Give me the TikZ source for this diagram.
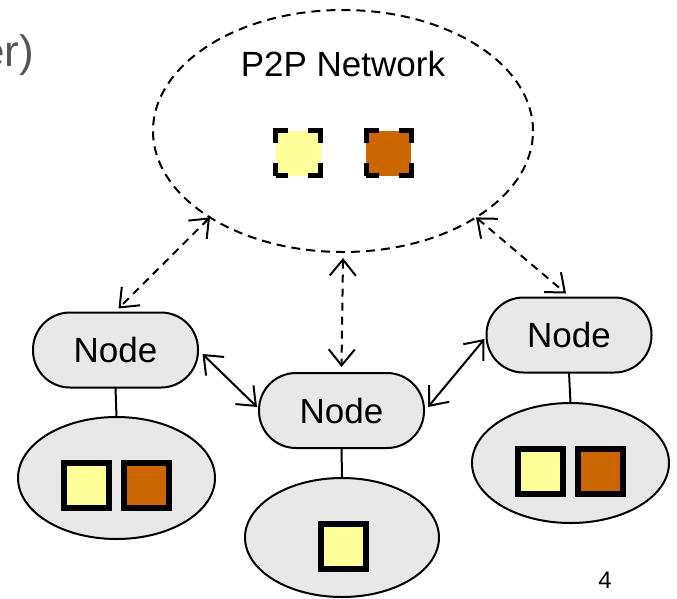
\documentclass[tikz,border=0pt]{standalone}
\usepackage{fontspec}
\setmainfont{Liberation Sans}
\usetikzlibrary{shapes.geometric,arrows.meta}
\definecolor{nodegray}{HTML}{E8E8E8}
\definecolor{yel}{HTML}{FFFF99}
\definecolor{brn}{HTML}{CC6600}
\definecolor{titlegray}{HTML}{555555}
\begin{document}
\begin{tikzpicture}[x=1pt,y=-1pt,
  peer/.style={draw=black,line width=2pt,fill=nodegray,rounded corners=37pt,
    minimum width=165pt,minimum height=75pt,inner sep=0pt,outer sep=0pt,
    font=\fontsize{35}{40}\selectfont},
  store/.style={ellipse,draw=black,line width=2pt,fill=nodegray,inner sep=0pt,outer sep=0pt},
  item/.style={draw=black,line width=6pt,minimum size=45pt,inner sep=0pt,outer sep=0pt},
  ditem/.style={draw=black,line width=5pt,minimum size=45pt,inner sep=0pt,outer sep=0pt,
    dash pattern=on 25pt off 20pt,dash phase=12.5pt},
  tip/.style={Straight Barb[length=16pt,width=26pt]},
  darrow/.style={line width=2pt,dash pattern=on 8pt off 6pt,{Straight Barb[length=16pt,width=26pt]}-{Straight Barb[length=16pt,width=26pt]}},
  sarrow/.style={line width=2pt,{Straight Barb[length=16pt,width=26pt]}-{Straight Barb[length=16pt,width=26pt]}},
  link/.style={line width=2pt}
]
\useasboundingbox (0,0) rectangle (677,598);
\clip (0,0) rectangle (677,598);

% title fragment
\node[anchor=base east,text=titlegray,font=\fontsize{44}{50}\selectfont,inner sep=0pt] (title) at (34,66) {er)};

% P2P network
\node[ellipse,draw=black,line width=2pt,dash pattern=on 9pt off 6pt,minimum width=380pt,minimum height=242pt,inner sep=0pt,outer sep=0pt] (net) at (343,131) {};
\node[font=\fontsize{35}{40}\selectfont,inner sep=0pt] (nettext) at (343,64) {P2P Network};
\node[ditem,fill=yel] (d1) at (298,153) {};
\node[ditem,fill=brn] (d2) at (388.5,153) {};

% peers
\node[peer] (L) at (115.5,350) {Node};
\node[peer] (M) at (341.5,410.5) {Node};
\node[peer] (R) at (569,335) {Node};

% stores
\node[store,minimum width=197pt,minimum height=122pt] (LS) at (116.5,478) {};
\node[store,minimum width=194pt,minimum height=119pt] (MS) at (342,537.5) {};
\node[store,minimum width=197pt,minimum height=120pt] (RS) at (570.5,463) {};

\node[item,fill=yel] (l1) at (86.5,485.5) {};
\node[item,fill=brn] (l2) at (146.5,485.5) {};
\node[item,fill=yel] (m1) at (343.5,546.5) {};
\node[item,fill=yel] (r1) at (540,471) {};
\node[item,fill=brn] (r2) at (600.5,471) {};

% links
\draw[link] (L.south) -- (LS.north);
\draw[link] (M.south) -- (MS.north);
\draw[link] (R.south) -- (RS.north);

% arrows
\draw[darrow] (net.213) -- ([shift={(3,-4)}]L.north);
\draw[darrow] ([shift={(0,6)}]net.south) -- ([shift={(0,-6)}]M.north);
\draw[darrow] (net.327) -- ([shift={(-3,-4)}]R.north);
\draw[sarrow] ([shift={(4.5,4)}]L.east) -- ([shift={(-2,-3.5)}]M.west);
\draw[sarrow] ([shift={(4,-3.5)}]M.east) -- ([shift={(-2,4)}]R.west);

% page number
\node[font=\fontsize{24}{28}\selectfont,inner sep=0pt] (pnum) at (605,580) {4};
\end{tikzpicture}
\end{document}
